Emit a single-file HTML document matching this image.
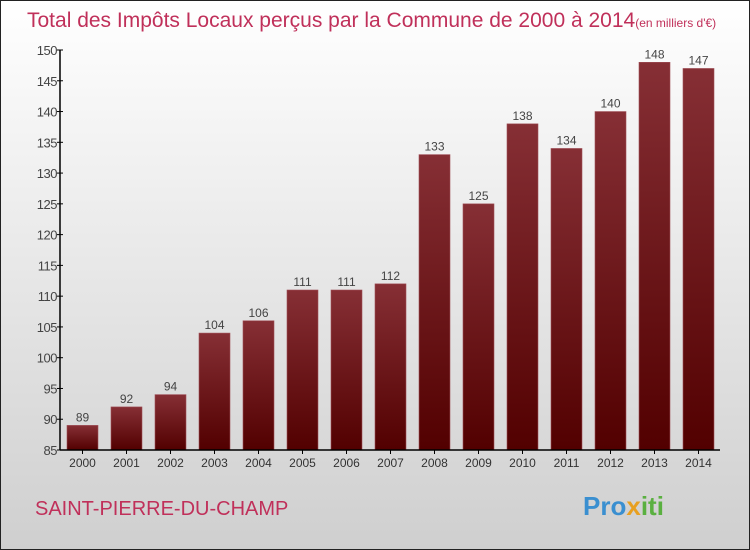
<!DOCTYPE html>
<html><head><meta charset="utf-8"><style>
body{margin:0}
#c{position:relative;width:748px;height:548px;border:1px solid #222;background:linear-gradient(#ffffff,#cfcfcf);font-family:"Liberation Sans",sans-serif;overflow:hidden}
</style></head><body>
<div id="c">
<svg width="748" height="548">
<text x="26" y="26" font-size="21" fill="#c0305a">Total des Impôts Locaux perçus par la Commune de 2000 à 2014<tspan font-size="12">(en milliers d'€)</tspan></text>
<g id="plot"></g>
<text x="34" y="514" font-size="20" fill="#c0305a">SAINT-PIERRE-DU-CHAMP</text>
<text x="582" y="514" font-size="26" font-weight="bold" fill="#3a8fd0">Pro<tspan fill="#e8a020">x</tspan><tspan fill="#5ab040">iti</tspan></text>
</svg>
</div>
<script>
const years=["2000","2001","2002","2003","2004","2005","2006","2007","2008","2009","2010","2011","2012","2013","2014"];
const values=[89,92,94,104,106,111,111,112,133,125,138,134,140,148,147];
const yTicks=[85,90,95,100,105,110,115,120,125,130,135,140,145,150];
const NS="http://www.w3.org/2000/svg";
const g=document.getElementById("plot");
const yMin=85,yMax=150,y0=449,y1=49,axX=59;
const y=v=>y0-(v-yMin)/(yMax-yMin)*(y0-y1);
const x=i=>81+i*44;
function el(t,a){const e=document.createElementNS(NS,t);for(const k in a)e.setAttribute(k,a[k]);g.appendChild(e);return e;}
const defs=el("defs",{});
defs.innerHTML='<linearGradient id="bg" x1="0" y1="0" x2="0" y2="1"><stop offset="0" stop-color="#862f35"/><stop offset="1" stop-color="#520000"/></linearGradient>';
yTicks.forEach(t=>{
 const l=el("line",{x1:axX-3,x2:axX+3,y1:y(t),y2:y(t),stroke:"#000"});
 
 
 const tx=el("text",{x:axX-3,y:y(t)+5,"font-size":13,fill:"#444","text-anchor":"end","letter-spacing":"-0.5"});
 tx.textContent=t;
 
 
});
years.forEach((yr,i)=>{
 const v=values[i];
 const r=el("rect",{x:x(i)-15,y:y(v),width:31,height:y0-y(v),fill:"url(#bg)",stroke:"#a05058","stroke-width":0.6});
 
 
 const vl=el("text",{x:x(i)+0.5,y:y(v)-4,"font-size":12,fill:"#444","text-anchor":"middle"});
 vl.textContent=v;
 
 
 const xl=el("text",{x:x(i)+0.5,y:y0+17,"font-size":12,fill:"#333","text-anchor":"middle"});
 xl.textContent=yr;
 
 
 const tk=el("line",{x1:x(i)+0.5,x2:x(i)+0.5,y1:y0,y2:y0+4,stroke:"#000"});
 
 
});
const ya=el("line",{x1:axX,x2:axX,y1:y1,y2:y0,stroke:"#000","stroke-width":1.5});


const xa=el("line",{x1:axX,x2:719,y1:y0,y2:y0,stroke:"#000","stroke-width":1.5});


</script>
</body></html>
